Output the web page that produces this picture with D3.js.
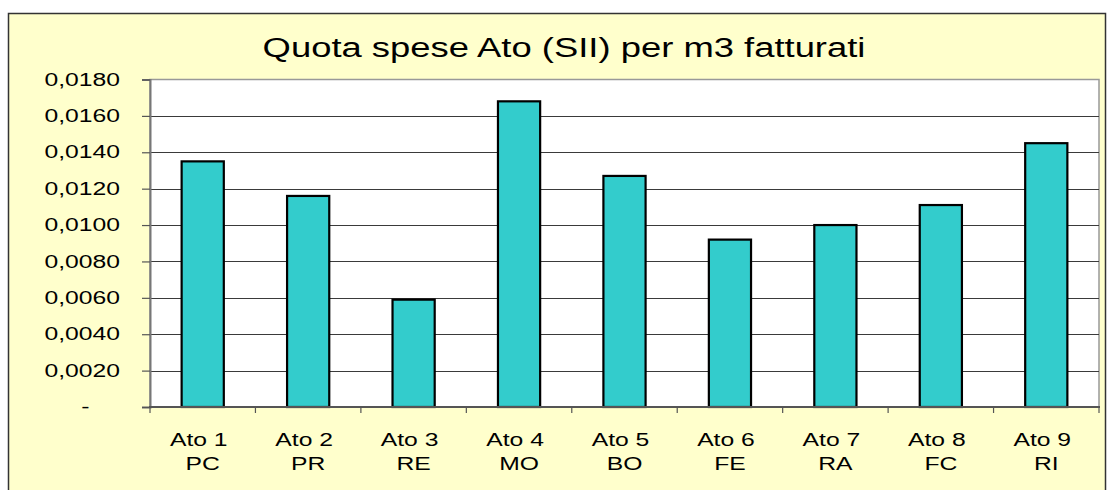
<!DOCTYPE html>
<html>
<head>
<meta charset="utf-8">
<script src="https://cdn.jsdelivr.net/npm/d3@7"></script>
<style>
  html, body { margin: 0; padding: 0; background: #fff; }
  svg { display: block; }
  text { font-family: "Liberation Sans", Arial, sans-serif; fill: #000; }
</style>
</head>
<body>
<svg id="chart" width="1107" height="490"></svg>
<script>
const categories = ["Ato 1", "Ato 2", "Ato 3", "Ato 4", "Ato 5", "Ato 6", "Ato 7", "Ato 8", "Ato 9"];
const provinces = ["PC", "PR", "RE", "MO", "BO", "FE", "RA", "FC", "RI"];
const values = [0.0135, 0.0116, 0.0059, 0.0168, 0.0127, 0.0092, 0.0100, 0.0111, 0.0145];
const yTicks = [0, 0.002, 0.004, 0.006, 0.008, 0.010, 0.012, 0.014, 0.016, 0.018];
const title = "Quota spese Ato (SII) per m3 fatturati";

const SX = 1.3; // horizontal stretch of the original picture's text
const svg = d3.select("#chart");

// outer chart area
svg.append("rect")
  .attr("x", 8.5).attr("y", 13.5)
  .attr("width", 1097).attr("height", 490)
  .attr("fill", "#FFFFCC").attr("stroke", "#333").attr("stroke-width", 1.5);

const plot = { left: 150, top: 79.5, right: 1099, bottom: 407 };

const x = d3.scaleBand()
  .domain(categories)
  .range([plot.left, plot.right])
  .paddingInner(0.6)
  .paddingOuter(0.3);

const y = d3.scaleLinear()
  .domain([0, 0.018])
  .range([plot.bottom, plot.top]);

// plot background
svg.append("rect")
  .attr("x", plot.left).attr("y", plot.top)
  .attr("width", plot.right - plot.left).attr("height", plot.bottom - plot.top)
  .attr("fill", "#fff").attr("stroke", "#999").attr("stroke-width", 1.5);

// gridlines
svg.append("g")
  .selectAll("line")
  .data(yTicks.filter(d => d > 0 && d < 0.018))
  .join("line")
  .attr("x1", plot.left).attr("x2", plot.right)
  .attr("y1", d => Math.round(y(d)) + 0.5).attr("y2", d => Math.round(y(d)) + 0.5)
  .attr("stroke", "#3a3a3a").attr("stroke-width", 1);

// bars
svg.append("g")
  .selectAll("rect")
  .data(values)
  .join("rect")
  .attr("x", (d, i) => x(categories[i]))
  .attr("y", d => y(d))
  .attr("width", x.bandwidth())
  .attr("height", d => y(0) - y(d))
  .attr("fill", "#33CCCC")
  .attr("stroke", "#000")
  .attr("stroke-width", 2.2);

// y axis
const loc = d3.formatLocale({ decimal: ",", thousands: ".", grouping: [3], currency: ["€", ""] });
const fmt = loc.format(".4f");
const yAxis = d3.axisLeft(y)
  .tickValues(yTicks)
  .tickSize(8)
  .tickPadding(30)
  .tickFormat(d => d === 0 ? "-" : fmt(d));
const gy = svg.append("g").attr("transform", `translate(${plot.left},0)`).call(yAxis);
gy.select(".domain").attr("stroke", "#777").attr("stroke-width", 2);
gy.selectAll(".tick line").attr("stroke", "#555").attr("stroke-width", 1.2);
gy.selectAll(".tick text")
  .attr("font-size", 19)
  .attr("font-family", "'Liberation Sans', Arial, sans-serif")
  .attr("fill", "#000")
  .attr("dy", "0.3em")
  .attr("x", d => d === 0 ? -58 / SX - 2 : -30 / SX)
  .attr("transform", `scale(${SX},1)`);

// x axis line
svg.append("line")
  .attr("x1", plot.left - 1).attr("x2", plot.right + 1)
  .attr("y1", plot.bottom).attr("y2", plot.bottom)
  .attr("stroke", "#555").attr("stroke-width", 2);

// x boundary ticks
const boundaries = categories.map(c => x(c) - x.step() * x.paddingOuter()).concat([plot.right]);
svg.append("g")
  .selectAll("line")
  .data(boundaries)
  .join("line")
  .attr("x1", d => d).attr("x2", d => d)
  .attr("y1", plot.bottom).attr("y2", plot.bottom + 6)
  .attr("stroke", "#555").attr("stroke-width", 1.2);

// x labels (two lines)
const xl = svg.append("g").selectAll("g")
  .data(categories)
  .join("g")
  .attr("transform", d => `translate(${x(d) + x.bandwidth() / 2},0) scale(${SX},1)`);
xl.append("text")
  .attr("text-anchor", "middle").attr("y", 446).attr("x", -4 / SX)
  .attr("font-size", 19)
  .text(d => d);
xl.append("text")
  .attr("text-anchor", "middle").attr("y", 470)
  .attr("font-size", 19)
  .text((d, i) => provinces[i]);

// title
svg.append("text")
  .attr("transform", `translate(564,57) scale(${SX},1)`)
  .attr("text-anchor", "middle")
  .attr("font-size", 28)
  .text(title);
</script>
</body>
</html>
